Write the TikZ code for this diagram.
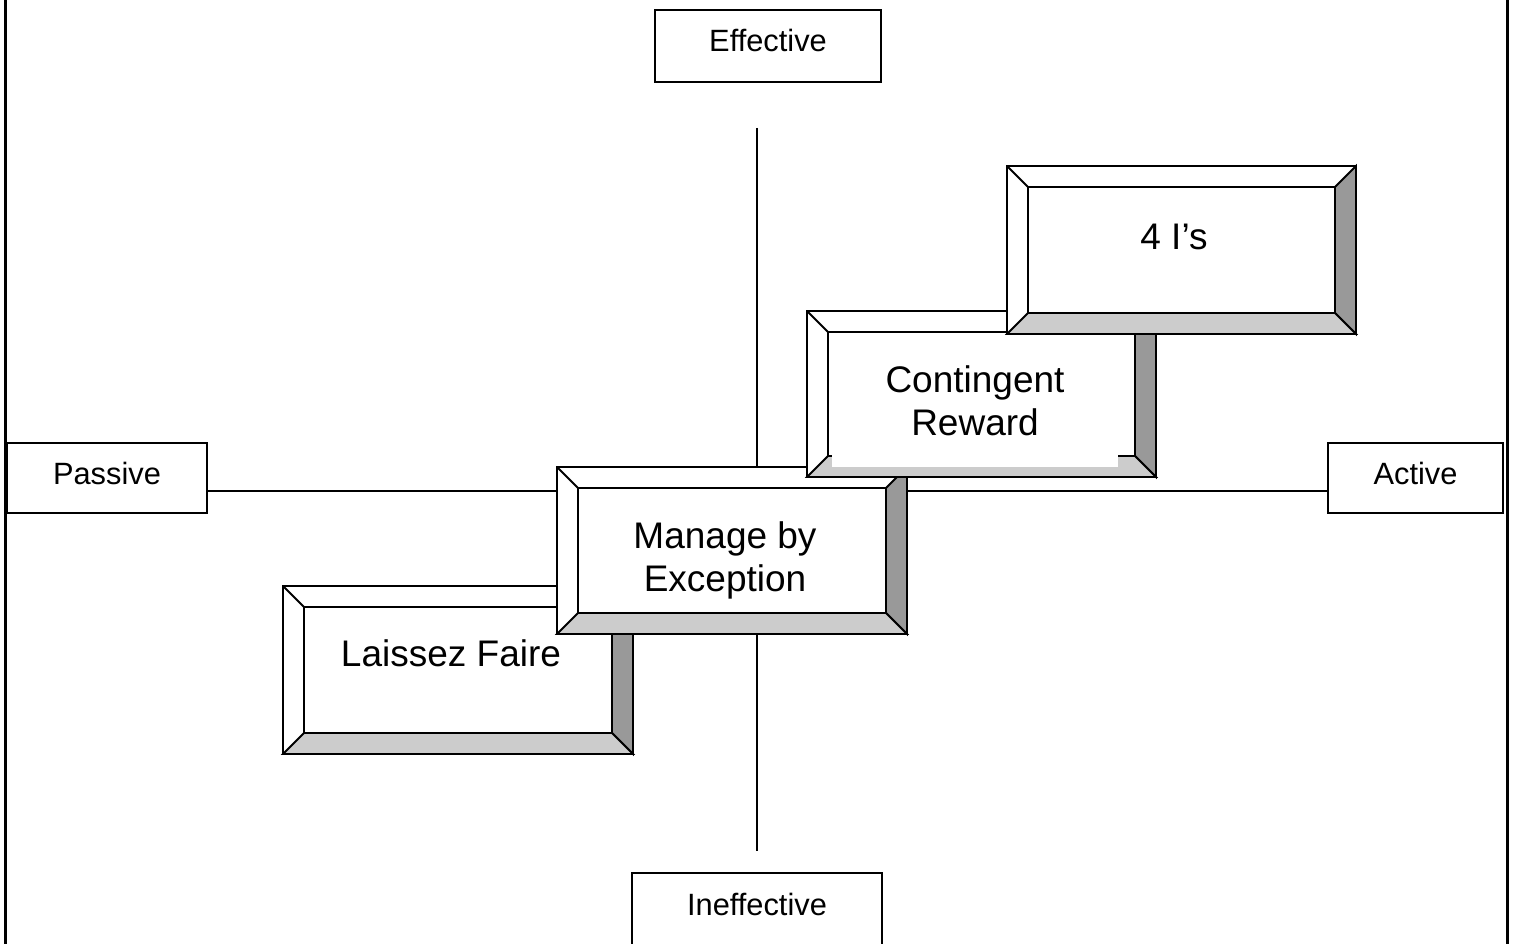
\documentclass[tikz,border=0pt]{standalone}
\usepackage{fontspec}
\setmainfont{Liberation Sans}
\definecolor{bevdark}{HTML}{999999}
\definecolor{bevlight}{HTML}{CCCCCC}
\tikzset{
  bline/.style={line width=1.8pt, line join=miter},
  axisline/.style={line width=1.5pt},
  framelinestyle/.style={line width=3pt},
  labelbox/.style={draw, line width=1.8pt, fill=white, font=\fontsize{30.8}{36}\selectfont,
     text height=22pt, text depth=10pt, inner sep=0pt},
  bigtext/.style={font=\fontsize{37}{43}\selectfont, align=center, inner sep=0pt}
}
\newcommand{\bevelbox}[4]{%
  \fill[white] (#1,#2) rectangle (#3,#4);
  \filldraw[bline, fill=bevdark] (#3,#2) -- (#3-21,#2+21) -- (#3-21,#4-21) -- (#3,#4) -- cycle;
  \filldraw[bline, fill=bevlight] (#1,#4) -- (#1+21,#4-21) -- (#3-21,#4-21) -- (#3,#4) -- cycle;
  \draw[bline] (#1,#2) rectangle (#3,#4);
  \draw[bline] (#1+21,#2+21) rectangle (#3-21,#4-21);
  \draw[bline] (#1,#2) -- (#1+21,#2+21);
}
\begin{document}
\begin{tikzpicture}[x=1pt,y=-1pt]
\useasboundingbox (0,0) rectangle (1513,944);
% frame
\coordinate (fl1) at (5,-5); \coordinate (fl2) at (5,950);
\coordinate (fr1) at (1507,-5); \coordinate (fr2) at (1507,950);
\draw[framelinestyle] (fl1) -- (fl2);
\draw[framelinestyle] (fr1) -- (fr2);
% axis labels
\node[labelbox, minimum width=226pt, minimum height=72pt] (eff) at (768,46) {Effective};
\node[labelbox, minimum width=250pt, minimum height=72pt] (ineff) at (757,909) {Ineffective};
\node[labelbox, minimum width=200pt, minimum height=70pt] (pass) at (107,478) {Passive};
\node[labelbox, minimum width=175pt, minimum height=70pt] (act) at (1415.5,478) {Active};
% axes
\coordinate (vtop) at (757,128);
\coordinate (vbot) at (757,851);
\coordinate (hl) at (pass.east |- 0,491);
\coordinate (hr) at (act.west |- 0,491);
\draw[axisline] (vtop) -- (vbot);
\draw[axisline] (hl) -- (hr);
% bevelled boxes
\bevelbox{283}{586}{633}{754}
\node[bigtext] (lf) at (451,653) {Laissez Faire};
\bevelbox{557}{467}{907}{634}
\node[bigtext] (mbe) at (725,560) {Manage by\\Exception};
\bevelbox{807}{311}{1156}{477}
\fill[white] (832,345) rectangle (1118,467);
\node[bigtext] (cr) at (975,401) {Contingent\\Reward};
\bevelbox{1007}{166}{1356}{334}
\node[bigtext] (fouri) at (1174,237) {4 I’s};
\end{tikzpicture}
\end{document}
